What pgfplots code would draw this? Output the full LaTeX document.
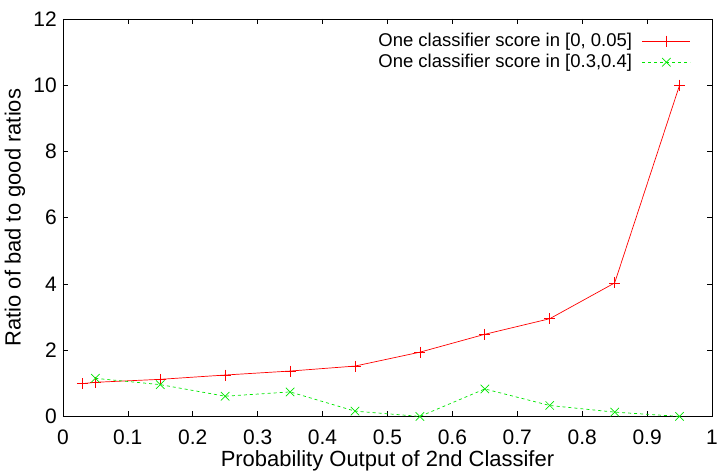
\documentclass[border=0pt]{standalone}
\usepackage{pgfplots}
\pgfplotsset{compat=1.18}
\usepackage{fontspec}
\setmainfont{Liberation Sans}
\definecolor{gpred}{RGB}{255,0,0}
\definecolor{gpgreen}{RGB}{0,230,0}
\begin{document}
\fontsize{18}{22}\selectfont
\begin{tikzpicture}
\begin{axis}[
  scale only axis,
  width=650pt, height=398pt,
  xmin=0, xmax=1, ymin=0, ymax=12,
  xtick={0,0.1,...,1.0},
  ytick={0,2,...,12},
  xticklabels={0,0.1,0.2,0.3,0.4,0.5,0.6,0.7,0.8,0.9,1},
  tick align=inside,
  major tick length=5pt,
  tick style={black, line width=0.6pt},
  axis line style={line width=0.8pt},
  /pgf/number format/assume math mode=true,
  ticklabel style={font=\fontsize{21}{24}\selectfont},
  xticklabel style={yshift=-7pt},
  label style={font=\fontsize{22}{26}\selectfont},
  xlabel={Probability Output of 2nd Classifer},
  ylabel={Ratio of bad to good ratios},
  xlabel style={yshift=6pt},
  ylabel style={yshift=-4pt},
  legend plot pos=right,
  legend cell align=right,
  legend style={draw=none, fill=none, at={(0.972,0.975)}, anchor=north east,
    font=\fontsize{18.5}{22}\selectfont, row sep=1pt,
    /tikz/every odd column/.append style={column sep=8pt}},
  legend image code/.code={%
    \draw[mark repeat=2,mark phase=2] plot coordinates {(0pt,0pt) (24pt,0pt) (48pt,0pt)};},
]
\addplot[color=gpred, line width=0.7pt, mark=+, mark size=5.5pt, mark options={solid, gpred}]
coordinates {
(0.03,0.99) (0.05,1.03) (0.15,1.12) (0.25,1.25) (0.35,1.37) (0.45,1.52)
(0.55,1.94) (0.65,2.48) (0.75,2.95) (0.85,4.03) (0.95,10.0)
};
\addlegendentry{One classifier score in [0, 0.05]}
\addplot[color=gpgreen, line width=0.7pt, dashed, mark=x, mark size=6pt, mark options={solid, gpgreen}]
coordinates {
(0.05,1.15) (0.15,0.96) (0.25,0.61) (0.35,0.74) (0.45,0.16)
(0.55,0.0) (0.65,0.83) (0.75,0.33) (0.85,0.13) (0.95,0.0)
};
\addlegendentry{One classifier score in [0.3,0.4]}
\end{axis}
\pgfresetboundingbox
\path ([xshift=-63pt,yshift=-55pt]current axis.south west) rectangle ([xshift=7pt,yshift=19pt]current axis.north east);
\end{tikzpicture}
\end{document}
